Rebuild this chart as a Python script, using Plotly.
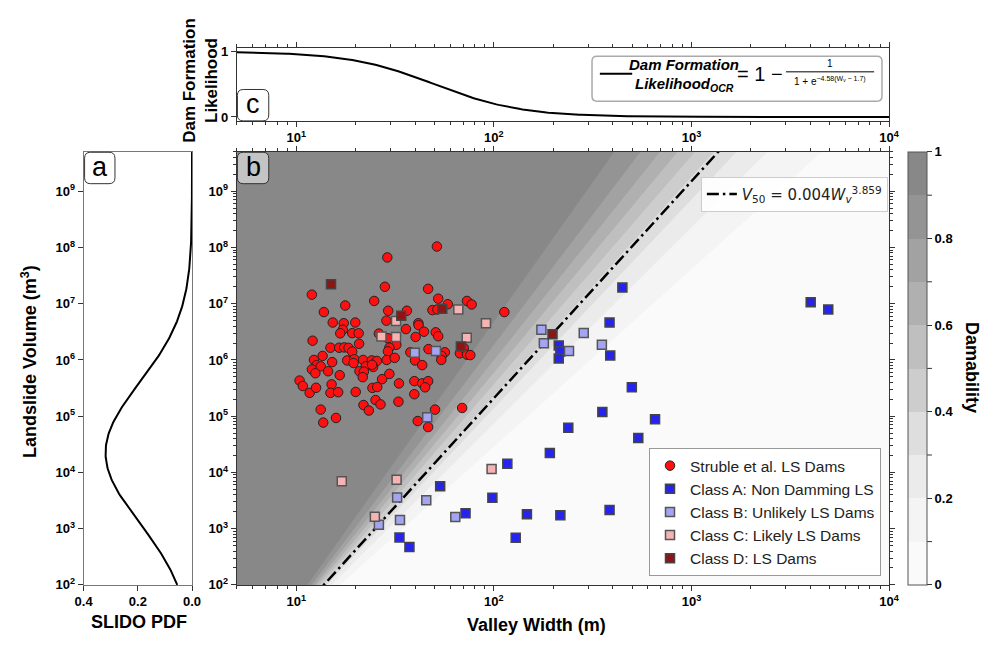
import numpy as np
import plotly.graph_objects as go

# page body has an 8px margin: figure is sized so that it fills the 996x647 window
OFF = 8
FIG_W, FIG_H = 996 - 2 * OFF, 647 - 2 * OFF


def fx(p):
    return (p - OFF) / FIG_W


def fy(p):
    return 1 - (p - OFF) / FIG_H


# ---------------- data ----------------
struble_W = [51.5, 28.9, 12.0, 28.1, 46.5, 24.8, 17.7, 13.8, 29.2, 36.3,
             52.3, 58.5, 48.9, 51.8, 73.1, 77.2, 113, 15.3, 17.4, 19.9,
             17.2, 16.7, 19.2, 20.7, 28.6, 41.5, 41.6, 35.9, 44.3, 50.8,
             52.3, 26.2, 29.1, 40.2, 12.1, 20.8, 32.1, 29.6, 29.1, 14.9,
             16.5, 17.5, 18.4, 19.2, 13.6, 15.2, 12.3, 12.7, 13.3, 12.0,
             12.5, 14.5, 18.1, 19.7, 21.8, 19.5, 24.1, 25.6, 22.5, 24.5,
             20.9, 22.0, 24.2, 28.7, 31.5, 21.7, 16.6, 27.2, 29.6, 37.8,
             39.9, 43.4, 46.7, 56.5, 54.4, 54.2, 67.3, 70.4, 73.1, 76.0,
             10.4, 10.8, 11.7, 12.6, 15.1, 14.9, 16.3, 20.0, 24.3, 25.7,
             33.1, 39.6, 43.4, 46.5, 44.9, 39.6, 25.2, 21.9, 26.7, 23.3,
             32.9, 13.3, 15.9, 13.7, 41.2, 46.5, 50.4, 69.1]
struble_V = [1.04e8, 6.65e7, 1.45e7, 2.0e7, 1.84e7, 1.12e7, 9.3e6, 7.1e6, 7.5e6, 7.5e6,
             1.23e7, 9.8e6, 7.7e6, 7.9e6, 1.12e7, 9.7e6, 7.1e6, 4.63e6, 4.5e6, 4.63e6,
             3.45e6, 2.98e6, 3.0e6, 2.98e6, 5.0e6, 4.5e6, 4.16e6, 3.54e6, 3.18e6, 3.1e6,
             2.64e6, 2.94e6, 2.43e6, 2.57e6, 2.2e6, 1.94e6, 1.86e6, 1.65e6, 1.42e6, 1.65e6,
             1.65e6, 1.67e6, 1.64e6, 1.41e6, 1.18e6, 9.15e5, 1.0e6, 8.1e5, 7.7e5, 6.8e5,
             5.8e5, 6.3e5, 9.8e5, 1.03e6, 1.0e6, 8.8e5, 9.8e5, 9.6e5, 7.7e5, 7.5e5,
             6.3e5, 6.2e5, 8.2e5, 1.0e6, 1.09e6, 4.94e5, 5.36e5, 4.56e5, 5.65e5, 1.37e6,
             9.8e5, 8.1e5, 1.56e6, 1.37e6, 1.18e6, 1.0e6, 1.31e6, 1.64e6, 1.24e6, 1.22e6,
             4.3e5, 3.44e5, 2.6e5, 3.2e5, 3.68e5, 2.6e5, 2.67e5, 2.7e5, 3.18e5, 3.3e5,
             3.83e5, 4.2e5, 3.83e5, 4.2e5, 3.26e5, 2.46e5, 1.94e5, 1.58e5, 1.62e5, 1.26e5,
             1.81e5, 1.31e5, 9.3e4, 7.7e4, 8.2e4, 6.4e4, 1.31e5, 1.4e5]

classA_W = [447, 385, 213, 217, 213, 388, 499, 354, 654, 238, 4010, 4920,
            538, 192, 117, 53.5, 98.3, 71.9, 147, 217, 385, 129, 33.3, 37.4]
classA_V = [1.94e7, 4.62e6, 1.81e6, 1.42e6, 1.06e6, 1.2e6, 3.26e5, 1.19e5, 8.8e4, 6.2e4, 1.06e7, 7.9e6,
            4.1e4, 2.21e4, 1.42e4, 5.7e3, 3.53e3, 1.88e3, 1.8e3, 1.73e3, 2.15e3, 689, 697, 473]

classB_W = [39.8, 50.9, 46.0, 174, 179, 285, 352, 240, 32.4, 45.5, 33.5, 26.2, 63.8]
classB_V = [1.35e6, 1.44e6, 9.6e4, 3.45e6, 1.99e6, 3.02e6, 1.86e6, 1.44e6, 3.6e3, 3.2e3, 1.42e3, 1.17e3, 1.62e3]

classC_W = [32.0, 27.0, 32.0, 66.1, 91.2, 72.9, 17.0, 32.2, 25.0, 97.4]
classC_V = [4.95e6, 2.6e6, 2.57e6, 7.9e6, 4.5e6, 2.47e6, 7.0e3, 7.4e3, 1.63e3, 1.15e4]

classD_W = [15.0, 34.0, 54.8, 68.1, 198]
classD_V = [2.22e7, 6.14e6, 8.1e6, 1.74e6, 2.86e6]

series_names = ["Struble et al. LS Dams", "Class A: Non Damming LS", "Class B: Unlikely LS Dams",
                "Class C: Likely LS Dams", "Class D: LS Dams"]

# model parameters
V50_A, V50_B = 0.004, 3.859
OCR_K, OCR_W0 = 4.58, 1.7
SLIDO_MU, SLIDO_SIGMA = 4.35, 1.25
DAM_LOGW0, DAM_LOGV0, DAM_K, DAM_M0 = 0.7665, 0.56, 2.44, 4.06

# ticks
x_tickvals = [1e1, 1e2, 1e3, 1e4]
x_ticktext = ["10<sup>1</sup>", "10<sup>2</sup>", "10<sup>3</sup>", "10<sup>4</sup>"]
y_tickvals = [1e2, 1e3, 1e4, 1e5, 1e6, 1e7, 1e8, 1e9]
y_ticktext = ["10<sup>%d</sup>" % k for k in range(2, 10)]
pdf_tickvals = [0.4, 0.2, 0.0]
pdf_ticktext = ["0.4", "0.2", "0.0"]
cb_tickvals = [0, 0.2, 0.4, 0.6, 0.8, 1]
cb_ticktext = ["0", "0.2", "0.4", "0.6", "0.8", "1"]
cb_minorvals = [0.1, 0.3, 0.5, 0.7, 0.9]
band_colors = ["#fafafa", "#f4f4f4", "#ebebeb", "#dedede", "#cdcdcd",
               "#bfbfbf", "#b0b0b0", "#a2a2a2", "#949494", "#888888"]

minor_x = [m * 10 ** k for k in range(0, 4) for m in range(2, 10) if 5 <= m * 10 ** k < 1e4]
minor_y = [m * 10 ** k for k in range(2, 10) for m in range(2, 10) if m * 10 ** k <= 5e9]

FONT = "Liberation Sans"
AX_COL = "#333333"

# ---------------- surfaces / curves ----------------
lw = np.linspace(np.log10(5) - 0.01, 4.01, 450)
lv = np.linspace(1.98, 9.72, 450)
LW, LV = np.meshgrid(lw, lv)
dW = LW - DAM_LOGW0
safe = np.where(dW > 1e-6, dW, 1.0)
M = np.where(dW > 1e-6, (LV - DAM_LOGV0) / safe, 1e3)
Z = 1.0 / (1.0 + np.exp(-DAM_K * (M - DAM_M0)))

cscale = []
for i, c in enumerate(band_colors):
    cscale.append([i / 10, c])
    cscale.append([(i + 1) / 10, c])

Wline = np.logspace(np.log10(5), 4, 300)
V50 = V50_A * Wline ** V50_B
ocr = 1 - 1 / (1 + np.exp(-OCR_K * (np.log10(Wline) - OCR_W0)))

lv_pdf = np.linspace(2, 9.7, 300)
pdf = np.exp(-0.5 * ((lv_pdf - SLIDO_MU) / SLIDO_SIGMA) ** 2) / (SLIDO_SIGMA * np.sqrt(2 * np.pi))

B_TOP, B_BOT = 150.6, 592.0
CB_X0, CB_X1 = 918, 937

fig = go.Figure()

fig.add_trace(go.Contour(
    x=10 ** lw, y=10 ** lv, z=Z, xaxis="x", yaxis="y",
    zmin=0, zmax=1, autocontour=False,
    contours=dict(start=0, end=1, size=0.1, coloring="fill", showlines=False),
    line=dict(width=0), colorscale=cscale, hoverinfo="skip", showlegend=False,
    colorbar=dict(
        x=fx(CB_X0), xanchor="left", y=fy(B_BOT), yanchor="bottom",
        len=(B_BOT - B_TOP) / FIG_H, lenmode="fraction",
        thickness=CB_X1 - CB_X0, thicknessmode="pixels", xpad=0, ypad=0,
        outlinewidth=1, outlinecolor="#555555",
        tickmode="array", tickvals=cb_tickvals, ticktext=cb_ticktext,
        ticks="outside", ticklen=5, tickcolor="#333333",
        tickfont=dict(family=FONT, size=13, color="black", weight="bold"),
    ),
))

fig.add_trace(go.Scatter(
    x=Wline, y=V50, mode="lines", xaxis="x", yaxis="y",
    line=dict(color="black", width=2.5, dash="12px,4px,2.5px,4px"),
    name="<i>V</i><sub>50</sub> = 0.004<i>W</i><sub><i>v</i></sub><sup>3.859</sup>",
    legend="legend2", hoverinfo="skip",
))

marker_specs = [
    (struble_W, struble_V, "circle", "#ff1010", "#222222", 9.5, 1),
    (classA_W, classA_V, "square", "#2424ee", "#444444", 9, 1.5),
    (classB_W, classB_V, "square", "#a4a4f2", "#555555", 9, 1.5),
    (classC_W, classC_V, "square", "#f5b3b3", "#555555", 9, 1.5),
    (classD_W, classD_V, "square", "#8e1515", "#444444", 9, 1.5),
]
for name, (xs, ys, sym, col, edge, sz, lwid) in zip(series_names, marker_specs):
    fig.add_trace(go.Scatter(
        x=xs, y=ys, mode="markers", xaxis="x", yaxis="y", name=name,
        legendgroup=name,
        marker=dict(symbol=sym, color=col, size=sz, line=dict(color=edge, width=lwid)),
    ))

fig.add_trace(go.Scatter(
    x=pdf, y=10 ** lv_pdf, mode="lines", xaxis="x2", yaxis="y2",
    line=dict(color="black", width=2), showlegend=False,
))
fig.add_trace(go.Scatter(
    x=Wline, y=ocr, mode="lines", xaxis="x3", yaxis="y3",
    line=dict(color="black", width=2), showlegend=False,
))

tickfont = dict(family=FONT, size=13, color="black", weight="bold")
XDOM = [fx(232.3), fx(898.3)]
YDOM = [fy(B_BOT), fy(B_TOP)]

common_log_x = dict(
    type="log", range=[np.log10(5), 4], tickmode="array", tickvals=x_tickvals,
    ticktext=x_ticktext, ticks="outside", ticklen=5, tickcolor=AX_COL,
    showline=True, linecolor=AX_COL, linewidth=1, mirror="ticks",
    showgrid=False, zeroline=False, tickfont=tickfont,
    minor=dict(tickmode="array", tickvals=minor_x, ticks="outside", ticklen=3, tickcolor=AX_COL, showgrid=False),
)

fig.update_layout(
    width=FIG_W, height=FIG_H, autosize=False,
    margin=dict(l=0, r=0, t=0, b=0),
    paper_bgcolor="white", plot_bgcolor="white",
    font=dict(family=FONT, color="black"),
    xaxis=dict(domain=XDOM, anchor="y", **common_log_x),
    yaxis=dict(
        domain=YDOM, anchor="x", type="log", range=[2, 9.7], tickmode="array",
        tickvals=y_tickvals, ticktext=y_ticktext, ticks="outside", ticklen=5,
        tickcolor=AX_COL, showline=True, linecolor=AX_COL, linewidth=1, mirror="ticks",
        showgrid=False, zeroline=False, tickfont=tickfont,
        minor=dict(tickmode="array", tickvals=minor_y, ticks="outside", ticklen=3, tickcolor=AX_COL, showgrid=False),
    ),
    xaxis2=dict(
        domain=[fx(76), fx(186.7)], anchor="y2", range=[0.4, 0], tickmode="array",
        tickvals=pdf_tickvals, ticktext=pdf_ticktext, ticks="outside", ticklen=5,
        tickcolor=AX_COL, showline=True, linecolor="#777777", linewidth=1, mirror=True,
        showgrid=False, zeroline=False, tickfont=tickfont,
    ),
    yaxis2=dict(
        domain=YDOM, anchor="x2", type="log", range=[2, 9.7], tickmode="array",
        tickvals=y_tickvals, ticktext=y_ticktext, ticks="outside", ticklen=5,
        tickcolor=AX_COL, showline=True, linecolor="#777777", linewidth=1, mirror=True,
        showgrid=False, zeroline=False, tickfont=tickfont,
    ),
    xaxis3=dict(domain=XDOM, anchor="y3", **common_log_x),
    yaxis3=dict(
        domain=[fy(119), fy(45)], anchor="x3", range=[-0.06, 1.05], tickmode="array",
        tickvals=[0, 1], ticktext=["0", "1"], ticks="outside", ticklen=5, tickcolor=AX_COL,
        showline=True, linecolor=AX_COL, linewidth=1, mirror=True,
        showgrid=False, zeroline=False, tickfont=tickfont,
    ),
    legend=dict(
        x=fx(890), xanchor="right", y=fy(583), yanchor="bottom",
        bgcolor="rgba(255,255,255,0.9)", bordercolor="#999999", borderwidth=1,
        font=dict(family=FONT, size=15.5, color="#222222"),
        traceorder="grouped", tracegroupgap=0, itemwidth=30,
    ),
    legend2=dict(
        x=fx(897), xanchor="right", y=fy(176), yanchor="top",
        bgcolor="rgba(255,255,255,0.9)", bordercolor="#cccccc", borderwidth=1,
        font=dict(family="DejaVu Sans", size=15, color="#222222"),
    ),
)


def rrect(x0, y0, x1, y1, r):
    pts = [
        ("M", [(x0 + r, y0)]), ("L", [(x1 - r, y0)]), ("Q", [(x1, y0), (x1, y0 + r)]),
        ("L", [(x1, y1 - r)]), ("Q", [(x1, y1), (x1 - r, y1)]),
        ("L", [(x0 + r, y1)]), ("Q", [(x0, y1), (x0, y1 - r)]),
        ("L", [(x0, y0 + r)]), ("Q", [(x0, y0), (x0 + r, y0)]),
    ]
    s = ""
    for cmd, ps in pts:
        s += cmd + " " + " ".join("%.5f,%.5f" % (fx(a), fy(b)) for a, b in ps) + " "
    return s + "Z"


shapes = []
annotations = []


def label_box(x0, y0, x1, y1, letter, fill):
    shapes.append(dict(type="path", xref="paper", yref="paper", path=rrect(x0, y0, x1, y1, 6),
                       fillcolor=fill, line=dict(color="#333333", width=1), layer="above"))
    annotations.append(dict(x=fx((x0 + x1) / 2), y=fy((y0 + y1) / 2 - 1), xref="paper", yref="paper",
                            text=letter, showarrow=False, xanchor="center", yanchor="middle",
                            font=dict(family=FONT, size=27, color="black")))


label_box(77, 151, 108, 183, "a", "white")
label_box(233, 151, 265, 183, "b", "#c4c4c4")
label_box(233, 87, 265, 119, "c", "white")

# minor colorbar ticks (0.1, 0.3, ...)
for v in cb_minorvals:
    yp = B_BOT - v * (B_BOT - B_TOP)
    shapes.append(dict(type="line", xref="paper", yref="paper", x0=fx(CB_X1), x1=fx(CB_X1 + 5),
                       y0=fy(yp), y1=fy(yp), line=dict(color="#333333", width=1)))

# panel c legend
shapes.append(dict(type="path", xref="paper", yref="paper", path=rrect(595, 53, 891, 99, 5),
                   fillcolor="white", line=dict(color="#aaaaaa", width=1.5), layer="above"))
shapes.append(dict(type="line", xref="paper", yref="paper", x0=fx(603), x1=fx(636), y0=fy(71), y1=fy(71),
                   line=dict(color="black", width=2), layer="above"))
shapes.append(dict(type="line", xref="paper", yref="paper", x0=fx(793), x1=fx(883), y0=fy(69), y1=fy(69),
                   line=dict(color="black", width=1), layer="above"))


def ann(x, y, text, size, angle=0, family=FONT, weight="normal", xanchor="center"):
    annotations.append(dict(x=fx(x), y=fy(y), xref="paper", yref="paper", text=text, showarrow=False,
                            xanchor=xanchor, yanchor="middle", textangle=angle,
                            font=dict(family=family, size=size, color="black", weight=weight)))


ann(689, 62, "<b><i>Dam Formation</i></b>", 15)
ann(689, 82, "<b><i>Likelihood<sub>OCR</sub></i></b>", 15)
ann(766, 71, "= 1 \u2212", 20)
ann(838, 61, "1", 10)
ann(838, 78, "1 + e<sup>\u22124.58(W<sub>v</sub> \u2212 1.7)</sup>", 10)

# axis titles
ann(538, 633, "<b>Valley Width (m)</b>", 18)
ann(133, 630, "<b>SLIDO PDF</b>", 18)
ann(20, 364, "<b>Landslide Volume (m<sup>3</sup>)</b>", 18, angle=-90)
ann(195, 78, "<b>Dam Formation<br>Likelihood</b>", 17, angle=-90)
ann(983, 370, "<b>Damability</b>", 18, angle=90)

fig.update_layout(shapes=shapes, annotations=annotations)

fig.write_html("out.html")
